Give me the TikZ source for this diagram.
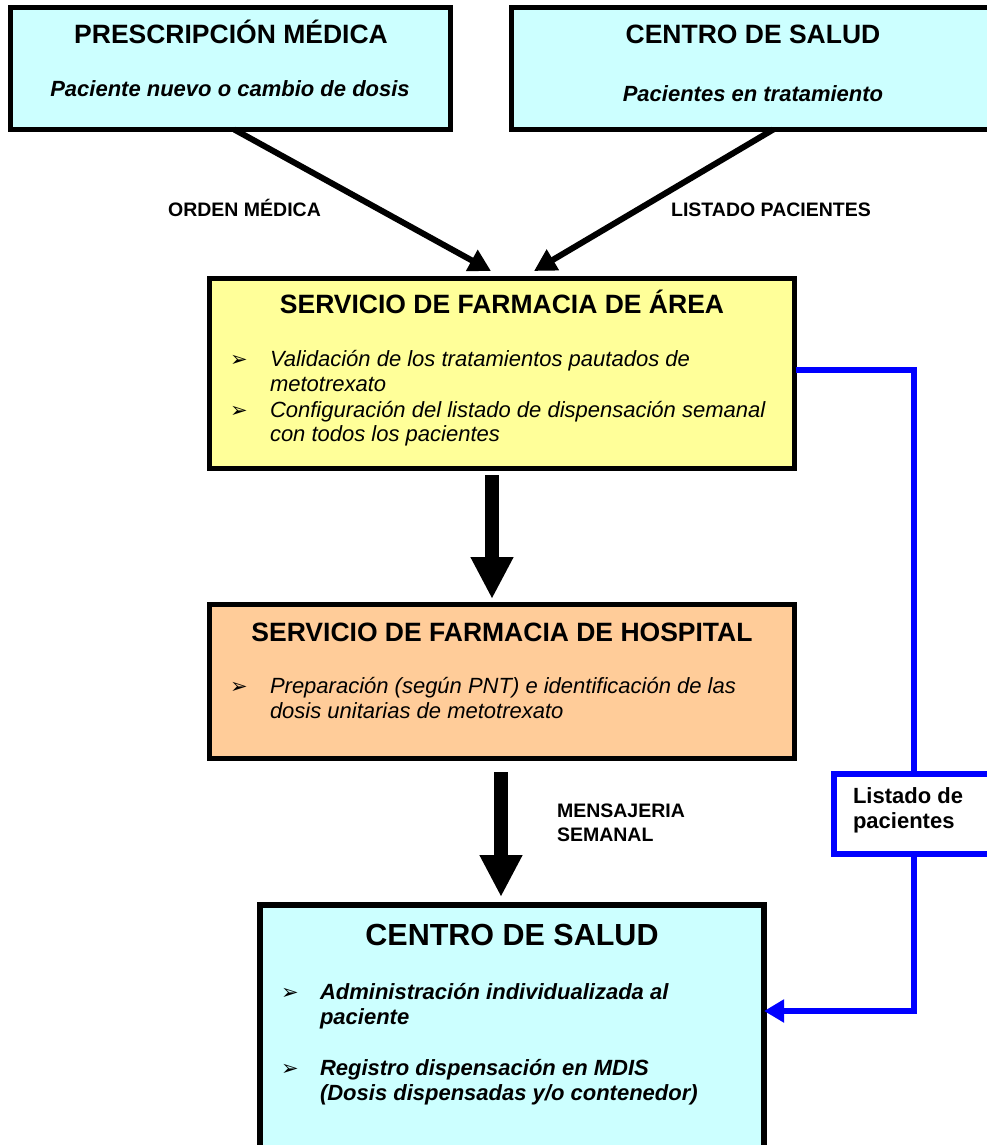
\documentclass[tikz,border=0pt]{standalone}
\usepackage{fontspec}
\setmainfont{Liberation Sans}
\newfontfamily\symfont{DejaVu Sans}
\usetikzlibrary{arrows.meta}
\definecolor{cyanfill}{HTML}{CCFFFF}
\definecolor{yellowfill}{HTML}{FFFF99}
\definecolor{orangefill}{HTML}{FFCC99}
\definecolor{linkblue}{HTML}{0000FF}
\begin{document}
\begin{tikzpicture}[x=1pt,y=-1pt,
  box/.style={draw=black, line width=5pt, inner sep=0pt, outer sep=0pt},
  txt/.style={inner sep=0pt, outer sep=0pt},
  title/.style={txt, anchor=base, font=\bfseries\fontsize{26.5}{26.5}\selectfont},
  bigtitle/.style={txt, anchor=base, font=\bfseries\fontsize{30.5}{30.5}\selectfont},
  sub/.style={txt, anchor=base, font=\bfseries\itshape\fontsize{22}{22}\selectfont},
  lab/.style={txt, font=\bfseries\fontsize{19.5}{19.5}\selectfont},
  item/.style={txt, anchor=base west, font=\itshape\fontsize{22}{22}\selectfont},
  bitem/.style={txt, anchor=base west, font=\bfseries\itshape\fontsize{22}{22}\selectfont},
  bul/.style={txt, anchor=base west, font=\symfont\fontsize{21}{21}\selectfont},
  lbltxt/.style={txt, anchor=base west, font=\bfseries\fontsize{22}{22}\selectfont},
  diag/.style={draw=black, line width=6pt, -{Triangle[length=22pt,width=23pt]}},
  fat/.style={draw=black, line width=14pt, -{Triangle[length=42pt,width=40pt]}},
  blueline/.style={draw=linkblue, line width=6pt}]
\useasboundingbox (0,0) rectangle (987,1145);

% boxes
\node[box, fill=cyanfill, minimum width=440.5pt, minimum height=122pt] (presc) at (230.25,68.5) {};
\node[box, fill=cyanfill, minimum width=484.5pt, minimum height=122pt] (csup) at (753.25,68.5) {};
\node[box, fill=yellowfill, minimum width=585pt, minimum height=190pt] (yarea) at (502,373.5) {};
\node[box, fill=orangefill, minimum width=585pt, minimum height=154pt] (hosp) at (502,681.5) {};
\node[box, line width=6pt, fill=cyanfill, minimum width=504pt, minimum height=260pt] (csbot) at (512,1035) {};
\node[draw=linkblue, line width=6pt, fill=white, inner sep=0pt, minimum width=159pt, minimum height=80pt] (lbl) at (913.5,814) {};

% top texts
\node[title] (presc-t) at (231,43.5) {PRESCRIPCIÓN MÉDICA};
\node[sub] (presc-s) at (230,96.5) {Paciente nuevo o cambio de dosis};
\node[title] (csup-t) at (753,43.5) {CENTRO DE SALUD};
\node[sub] (csup-s) at (753,102) {Pacientes en tratamiento};

% diagonal arrows
\coordinate (tipA) at (491,271);
\coordinate (tipB) at (534,271);
\draw[diag] ([xshift=4pt]presc.south) -- (tipA);
\draw[diag] ([xshift=20pt]csup.south) -- (tipB);
\node[lab, anchor=base] (ordlab) at (244.5,216) {ORDEN MÉDICA};
\node[lab, anchor=base] (listlab) at (771,216) {LISTADO PACIENTES};

% yellow box texts
\node[title] (yarea-t) at (502,313) {SERVICIO DE FARMACIA DE ÁREA};
\node[bul] (yb1) at (230,366) {➢};
\node[item] (yi1a) at (270,366) {Validación de los tratamientos pautados de};
\node[item] (yi1b) at (270,391) {metotrexato};
\node[bul] (yb2) at (230,417) {➢};
\node[item] (yi2a) at (270,417) {Configuración del listado de dispensación semanal};
\node[item] (yi2b) at (270,441) {con todos los pacientes};

% orange box texts
\node[title] (hosp-t) at (502,641) {SERVICIO DE FARMACIA DE HOSPITAL};
\node[bul] (hb1) at (230,693) {➢};
\node[item] (hi1a) at (270,693) {Preparación (según PNT) e identificación de las};
\node[item] (hi1b) at (270,718) {dosis unitarias de metotrexato};

% fat arrows
\draw[fat] ([xshift=-10pt,yshift=-6.5pt]yarea.south) -- ([xshift=-10pt,yshift=5.5pt]hosp.north);
\draw[fat] ([xshift=-1pt,yshift=-13.5pt]hosp.south) -- ([xshift=-11pt,yshift=8pt]csbot.north);
\node[lab, anchor=base west] (mens1) at (557,817) {MENSAJERIA};
\node[lab, anchor=base west] (mens2) at (557,841) {SEMANAL};

% blue connector
\draw[blueline] ([xshift=1pt,yshift=3.5pt]yarea.east) -| (lbl.north);
\draw[blueline, -{Triangle[length=20pt,width=22pt]}] (lbl.south) |- ([yshift=24pt]csbot.east);
\node[lbltxt] (lbl-1) at (853,803) {Listado de};
\node[lbltxt] (lbl-2) at (853,828) {pacientes};

% bottom box texts
\node[bigtitle] (csbot-t) at (512,945) {CENTRO DE SALUD};
\node[bul] (bb1) at (281,999) {➢};
\node[bitem] (bi1a) at (320,999) {Administración individualizada al};
\node[bitem] (bi1b) at (320,1024) {paciente};
\node[bul] (bb2) at (281,1075) {➢};
\node[bitem] (bi2a) at (320,1075) {Registro dispensación en MDIS};
\node[bitem] (bi2b) at (320,1100) {(Dosis dispensadas y/o contenedor)};
\end{tikzpicture}
\end{document}
